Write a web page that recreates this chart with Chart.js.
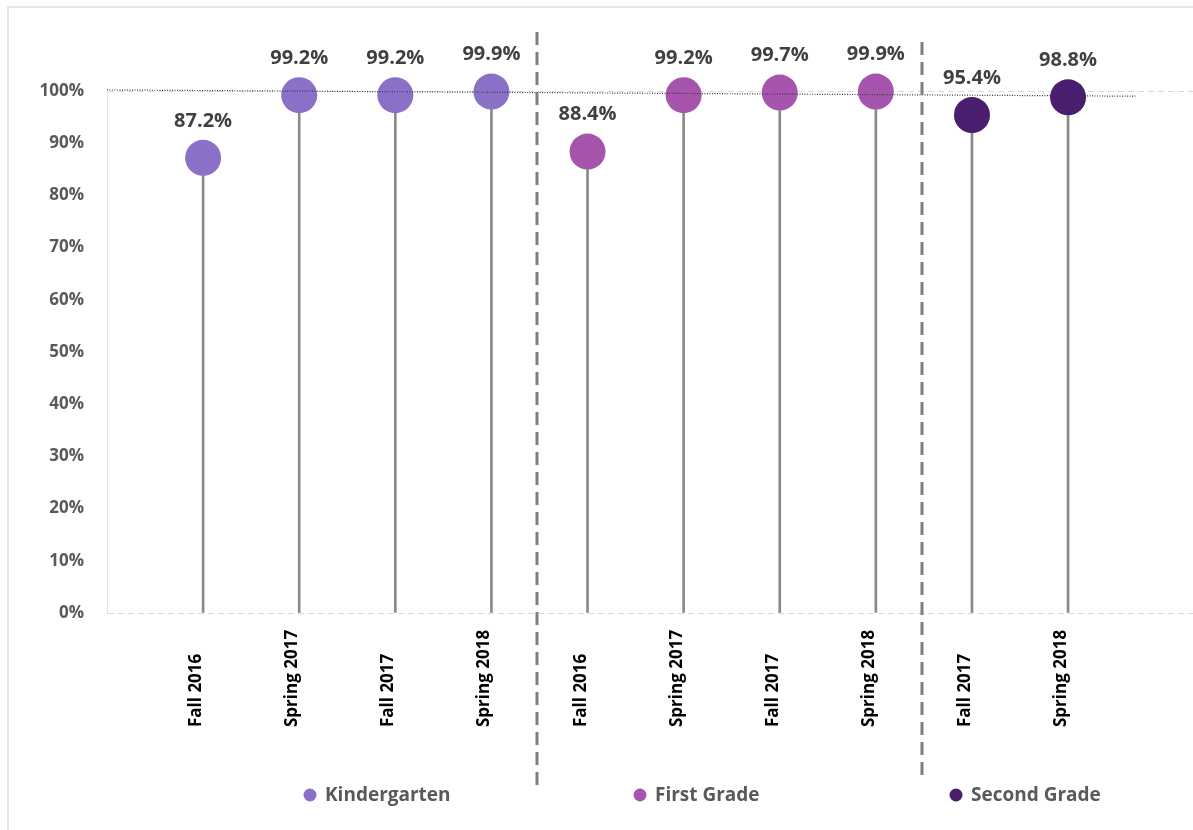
<!DOCTYPE html>
<html>
<head>
<meta charset="utf-8">
<title>Grade attendance lollipop</title>
<script src="https://cdn.jsdelivr.net/npm/chart.js@4"></script>
<style>
  html, body { margin: 0; padding: 0; background: #fff; overflow: hidden; }
  #wrap { position: relative; width: 1193px; height: 830px; }
  canvas { display: block; }
</style>
</head>
<body>
<div id="wrap"><canvas id="chart"></canvas></div>
<script>
// data
const categories = ['Fall 2016', 'Spring 2017', 'Fall 2017', 'Spring 2018',
                    'Fall 2016', 'Spring 2017', 'Fall 2017', 'Spring 2018',
                    'Fall 2017', 'Spring 2018'];
const groups = ['Kindergarten', 'First Grade', 'Second Grade'];
const kindergarten = [87.2, 99.2, 99.2, 99.9];
const firstGrade = [88.4, 99.2, 99.7, 99.9];
const secondGrade = [95.4, 98.8];
const dividerAt = [4.47, 8.48];          // between the grade groups (x axis units)
const refLineX = [0, 10.7];              // dotted line across the top
const refLineY = [100.2, 99.0];

const colors = ['#8b70c7', '#a654ac', '#4a1e6e'];
const seriesValues = [kindergarten, firstGrade, secondGrade];

// x position of each point = its category index (1-based)
let start = 1;
const pointSets = seriesValues.map((vals, g) => {
  const pts = vals.map((v, i) => ({ x: start + i, y: v }));
  start += vals.length;
  return pts;
});
const allPoints = pointSets.flat();

const labelFont = "'Open Sans', 'DejaVu Sans', sans-serif";

// frame, dividers, value labels, rotated x labels and legend
const decorations = {
  id: 'decorations',
  beforeDraw(chart) {
    const ctx = chart.ctx;
    ctx.save();
    ctx.strokeStyle = '#e6e6e6';
    ctx.lineWidth = 2;
    ctx.beginPath();
    ctx.moveTo(8, 900);
    ctx.lineTo(8, 7);
    ctx.lineTo(1300, 7);
    ctx.stroke();
    ctx.restore();
  },
  afterDatasetsDraw(chart) {
    const ctx = chart.ctx;
    const xs = chart.scales.x;
    ctx.save();
    // value labels over the points
    ctx.font = 'bold 20px ' + labelFont;
    ctx.fillStyle = '#404040';
    ctx.textAlign = 'center';
    ctx.textBaseline = 'middle';
    [1, 2, 3].forEach(di => {
      const meta = chart.getDatasetMeta(di);
      meta.data.forEach((el, i) => {
        const v = chart.data.datasets[di].data[i].y;
        ctx.fillText(v.toFixed(1) + '%', el.x, el.y - 37);
      });
    });
    // dashed group dividers
    ctx.strokeStyle = '#7f7f7f';
    ctx.lineWidth = 3;
    ctx.setLineDash([13, 7]);
    const ends = [[32, 787], [42, 777]];
    dividerAt.forEach((d, i) => {
      const px = Math.round(xs.getPixelForValue(d));
      ctx.beginPath();
      ctx.moveTo(px, ends[i][0]);
      ctx.lineTo(px, ends[i][1]);
      ctx.stroke();
    });
    ctx.setLineDash([]);
    // rotated category labels, bottom aligned
    ctx.font = 'bold 17px ' + labelFont;
    ctx.fillStyle = '#000';
    ctx.textAlign = 'left';
    ctx.textBaseline = 'alphabetic';
    categories.forEach((c, i) => {
      const px = xs.getPixelForValue(i + 1);
      ctx.save();
      ctx.translate(px - 2, 727);
      ctx.rotate(-Math.PI / 2);
      ctx.fillText(c, 0, 0);
      ctx.restore();
    });
    // legend
    const legendX = [310, 640, 956];
    ctx.font = 'bold 19px ' + labelFont;
    ctx.textBaseline = 'middle';
    groups.forEach((g, i) => {
      ctx.fillStyle = colors[i];
      ctx.beginPath();
      ctx.arc(legendX[i], 795, 6.5, 0, Math.PI * 2);
      ctx.fill();
      ctx.fillStyle = '#595959';
      ctx.fillText(g, legendX[i] + 15, 796);
    });
    ctx.restore();
  }
};

new Chart(document.getElementById('chart'), {
  type: 'scatter',
  data: {
    datasets: [
      {
        type: 'bar',
        label: 'stems',
        data: allPoints,
        backgroundColor: '#8a8a8a',
        barThickness: 2,
        order: 5
      },
      ...pointSets.map((pts, g) => ({
        type: 'scatter',
        label: groups[g],
        data: pts,
        backgroundColor: colors[g],
        borderColor: colors[g],
        borderWidth: 0,
        pointRadius: 18,
        clip: false,
        order: 2
      })),
      {
        type: 'line',
        label: 'ref',
        data: refLineX.map((x, i) => ({ x, y: refLineY[i] })),
        borderColor: '#3a3a3a',
        borderWidth: 1.2,
        borderDash: [1, 1.5],
        pointRadius: 0,
        clip: false,
        order: 0
      }
    ]
  },
  options: {
    responsive: true,
    maintainAspectRatio: false,
    animation: false,
    events: [],
    layout: { autoPadding: false, padding: { top: 91, left: 0, right: 0, bottom: 0 } },
    plugins: {
      legend: { display: false },
      tooltip: { enabled: false }
    },
    scales: {
      x: {
        type: 'linear',
        min: 0,
        max: 11.3,
        offset: false,
        grid: { display: false },
        border: { display: false },
        ticks: { display: false },
        afterFit(s) { s.height = 217; }
      },
      y: {
        min: 0,
        max: 100,
        ticks: {
          stepSize: 10,
          padding: 23,
          color: '#595959',
          font: { family: labelFont, size: 17, weight: 'bold' },
          callback: v => v + '%'
        },
        grid: {
          drawTicks: false,
          color: c => (c.tick && (c.tick.value === 0 || c.tick.value === 100)) ? '#d9d9d9' : 'rgba(0,0,0,0)',
          lineWidth: 1
        },
        border: { display: true, color: '#e3e3e3', dash: [6, 4] },
        afterFit(s) { s.width = 107; }
      }
    }
  },
  plugins: [decorations]
});
</script>
</body>
</html>
